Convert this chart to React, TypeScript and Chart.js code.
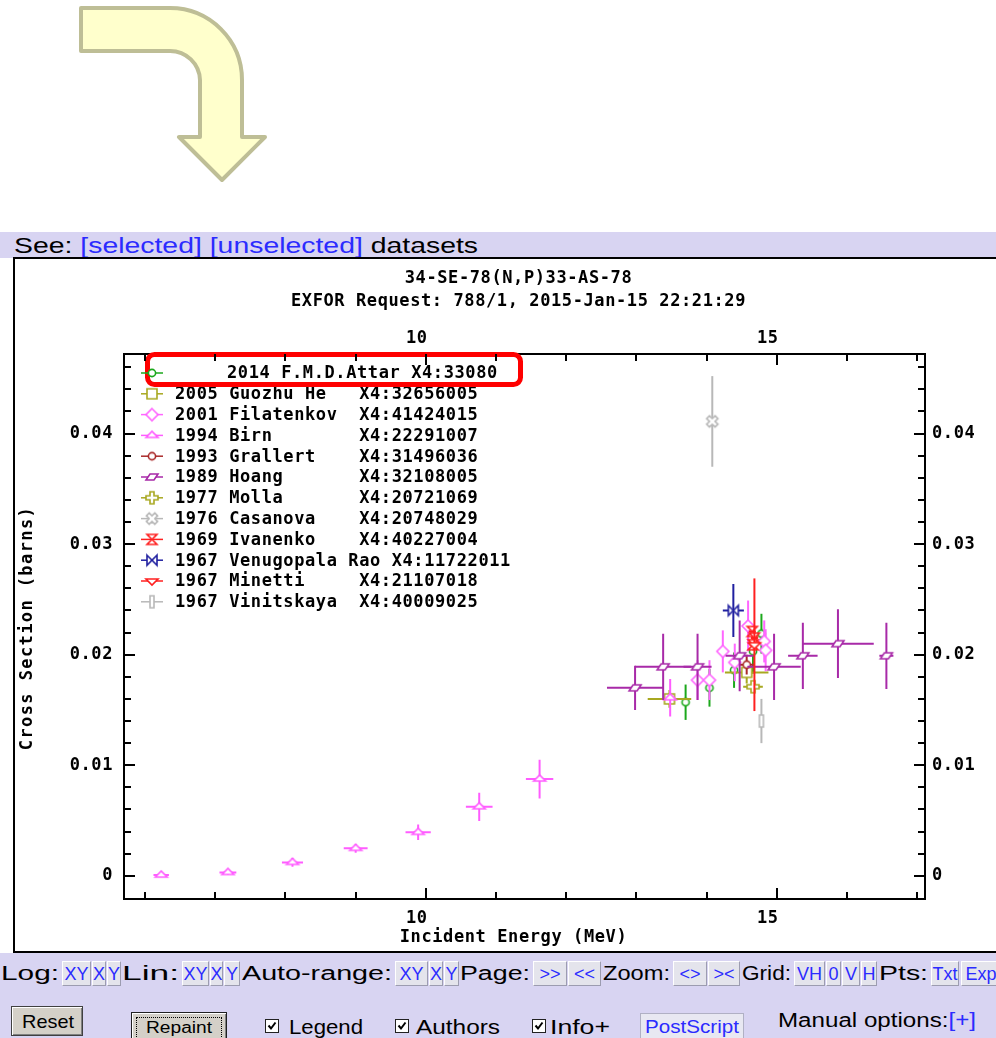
import React, { useEffect, useRef } from 'react';
import { Chart, registerables } from 'chart.js';

Chart.register(...registerables);

// ---------------- axis data ----------------
const X_MIN = 5.7;
const X_MAX = 17.11;
const Y_MIN = -0.0021;
const Y_MAX = 0.0472;
const X_TICKS = [6, 7, 8, 9, 10, 11, 12, 13, 14, 15, 16, 17];
const X_LABELED = [10, 15];
const Y_TICKS = [0, 0.002, 0.004, 0.006, 0.008, 0.01, 0.012, 0.014, 0.016, 0.018, 0.02, 0.022, 0.024, 0.026, 0.028, 0.03, 0.032, 0.034, 0.036, 0.038, 0.04, 0.042, 0.044, 0.046];
const Y_LABELED = [0, 0.01, 0.02, 0.03, 0.04];
const Y_LABELS = ['0', '0.01', '0.02', '0.03', '0.04'];

const TITLE_LINES = ['34-SE-78(N,P)33-AS-78', 'EXFOR Request: 788/1, 2015-Jan-15 22:21:29'];
const X_TITLE = 'Incident Energy (MeV)';
const Y_TITLE = 'Cross Section (barns)';

// ---------------- legend data ----------------
const YEARS = ['2014', '2005', '2001', '1994', '1993', '1989', '1977', '1976', '1969', '1967', '1967', '1967'];
const AUTHORS = ['F.M.D.Attar', 'Guozhu He', 'Filatenkov', 'Birn', 'Grallert', 'Hoang', 'Molla', 'Casanova', 'Ivanenko', 'Venugopala Rao', 'Minetti', 'Vinitskaya'];
const X4_IDS = ['33080', '32656005', '41424015', '22291007', '31496036', '32108005', '20721069', '20748029', '40227004', '11722011', '21107018', '40009025'];
const COLORS = ['#1CA81C', '#A8A820', '#FF66FF', '#FF5CFF', '#AA2A2A', '#A82AA8', '#A8A820', '#B8B8B8', '#FF2020', '#2020A0', '#FF2020', '#B8B8B8'];
const MARKERS = ['circle', 'square', 'diamond', 'triangle', 'circle', 'parallelogram', 'plus', 'cross', 'hourglass', 'bowtie', 'triangleDown', 'bar'];

// ---------------- series data (E, dE in MeV; sigma, dsigma in barns) ----------------
const ATTAR_E = [13.70, 14.04, 14.39, 14.66, 14.78];
const ATTAR_DE = [0, 0, 0, 0, 0];
const ATTAR_V = [0.0157, 0.0170, 0.0186, 0.0203, 0.0219];
const ATTAR_DV = [0.0016, 0.0017, 0.0016, 0.0020, 0.0018];

const HE_E = [13.47, 14.57];
const HE_DE = [0.31, 0.31];
const HE_V = [0.0160, 0.0184];
const HE_DV = [0.0008, 0.0010];

const FILATENKOV_E = [13.87, 14.04, 14.23, 14.40, 14.59, 14.82, 14.84];
const FILATENKOV_DE = [0, 0, 0, 0, 0, 0, 0];
const FILATENKOV_V = [0.0177, 0.0177, 0.0203, 0.0193, 0.0226, 0.0212, 0.0204];
const FILATENKOV_DV = [0.0018, 0.0018, 0.0019, 0.0017, 0.0023, 0.0019, 0.0019];

const BIRN_E = [6.23, 7.18, 8.10, 9.00, 9.89, 10.76, 11.62, 13.48];
const BIRN_DE = [0.11, 0.12, 0.15, 0.17, 0.18, 0.19, 0.195, 0.02];
const BIRN_V = [0.00006, 0.0003, 0.00121, 0.00248, 0.00393, 0.00624, 0.00875, 0.0161];
const BIRN_DV = [0.0001, 0.0002, 0.0004, 0.0004, 0.0007, 0.00128, 0.00175, 0.0017];

const GRALLERT_E = [14.57];
const GRALLERT_DE = [0.1];
const GRALLERT_V = [0.0191];
const GRALLERT_DV = [0.0009];

const HOANG_E = [12.98, 13.38, 13.87, 14.47, 14.96, 15.37, 15.87, 16.56];
const HOANG_DE = [0.40, 0.40, 0.20, 0.20, 0.38, 0.21, 0.51, 0.10];
const HOANG_V = [0.0170, 0.0189, 0.0189, 0.0199, 0.0189, 0.0199, 0.0210, 0.0199];
const HOANG_DV = [0.0020, 0.0030, 0.0030, 0.0032, 0.0030, 0.0030, 0.0031, 0.0030];

const MOLLA_E = [14.66];
const MOLLA_DE = [0.14];
const MOLLA_V = [0.0171];
const MOLLA_DV = [0.0005];

const CASANOVA_E = [14.08];
const CASANOVA_DE = [0];
const CASANOVA_V = [0.0411];
const CASANOVA_DV = [0.0041];

const IVANENKO_E = [14.65, 14.68, 14.66];
const IVANENKO_DE = [0.05, 0.05, 0.05];
const IVANENKO_V = [0.0221, 0.0215, 0.0209];
const IVANENKO_DV = [0.0005, 0.0005, 0.0005];

const RAO_E = [14.38];
const RAO_DE = [0.15];
const RAO_V = [0.0240];
const RAO_DV = [0.0024];

const MINETTI_E = [14.68];
const MINETTI_DE = [0];
const MINETTI_V = [0.0209];
const MINETTI_DV = [0.0060];

const VINITSKAYA_E = [14.78];
const VINITSKAYA_DE = [0];
const VINITSKAYA_V = [0.0140];
const VINITSKAYA_DV = [0.0020];

const SERIES = [
  { e: ATTAR_E, de: ATTAR_DE, v: ATTAR_V, dv: ATTAR_DV },
  { e: HE_E, de: HE_DE, v: HE_V, dv: HE_DV },
  { e: FILATENKOV_E, de: FILATENKOV_DE, v: FILATENKOV_V, dv: FILATENKOV_DV },
  { e: BIRN_E, de: BIRN_DE, v: BIRN_V, dv: BIRN_DV },
  { e: GRALLERT_E, de: GRALLERT_DE, v: GRALLERT_V, dv: GRALLERT_DV },
  { e: HOANG_E, de: HOANG_DE, v: HOANG_V, dv: HOANG_DV },
  { e: MOLLA_E, de: MOLLA_DE, v: MOLLA_V, dv: MOLLA_DV },
  { e: CASANOVA_E, de: CASANOVA_DE, v: CASANOVA_V, dv: CASANOVA_DV },
  { e: IVANENKO_E, de: IVANENKO_DE, v: IVANENKO_V, dv: IVANENKO_DV },
  { e: RAO_E, de: RAO_DE, v: RAO_V, dv: RAO_DV },
  { e: MINETTI_E, de: MINETTI_DE, v: MINETTI_V, dv: MINETTI_DV },
  { e: VINITSKAYA_E, de: VINITSKAYA_DE, v: VINITSKAYA_V, dv: VINITSKAYA_DV },
];

const MONO = 'bold 17px "DejaVu Sans Mono", monospace';
const UI_FONT = '"Liberation Sans", Arial, sans-serif';
const LINK = '#2B2BFF';
const LAVENDER = '#D8D4F2';

function legendLabel(i: number) {
  return `${YEARS[i]} ${AUTHORS[i].padEnd(11)} X4:${X4_IDS[i]}`;
}

function makeMarker(kind: string, color: string) {
  const c = document.createElement('canvas');
  c.width = 24;
  c.height = 24;
  const g = c.getContext('2d')!;
  g.translate(12, 12);
  g.strokeStyle = color;
  g.fillStyle = '#fff';
  g.lineWidth = 1.6;
  g.lineJoin = 'miter';
  g.beginPath();
  const poly = (pts: number[][]) => {
    pts.forEach((p, k) => (k === 0 ? g.moveTo(p[0], p[1]) : g.lineTo(p[0], p[1])));
    g.closePath();
  };
  switch (kind) {
    case 'circle':
      g.arc(0, 0, 3.6, 0, Math.PI * 2);
      break;
    case 'square':
      g.rect(-5, -5, 10, 10);
      break;
    case 'diamond':
      poly([[0, -6], [6, 0], [0, 6], [-6, 0]]);
      break;
    case 'triangle':
      poly([[-6, 2], [0, -4], [6, 2]]);
      break;
    case 'triangleDown':
      poly([[-6, -2], [6, -2], [0, 4]]);
      break;
    case 'parallelogram':
      poly([[-6, 3], [-2, -3], [6, -3], [2, 3]]);
      break;
    case 'plus':
      poly([[-2, -6], [2, -6], [2, -2], [6, -2], [6, 2], [2, 2], [2, 6], [-2, 6], [-2, 2], [-6, 2], [-6, -2], [-2, -2]]);
      break;
    case 'cross': {
      const pts = [[-2, -6], [2, -6], [2, -2], [6, -2], [6, 2], [2, 2], [2, 6], [-2, 6], [-2, 2], [-6, 2], [-6, -2], [-2, -2]];
      const r = Math.PI / 4;
      poly(pts.map(([x, y]) => [x * Math.cos(r) - y * Math.sin(r), x * Math.sin(r) + y * Math.cos(r)]));
      break;
    }
    case 'hourglass':
      g.moveTo(-5, -5);
      g.lineTo(5, -5);
      g.lineTo(-5, 5);
      g.lineTo(5, 5);
      g.closePath();
      break;
    case 'bowtie':
      g.moveTo(-5, -5);
      g.lineTo(5, 5);
      g.lineTo(5, -5);
      g.lineTo(-5, 5);
      g.closePath();
      break;
    case 'bar':
      g.rect(-2, -6, 4, 12);
      break;
  }
  g.fill();
  g.stroke();
  return c;
}

function makePlugin(markers: HTMLCanvasElement[]) {
  return {
    id: 'exfor',
    beforeDraw(chart: any) {
      chart.ctx.letterSpacing = '0.6px';
    },
    beforeDatasetDraw(chart: any, args: any) {
      const ds = chart.data.datasets[args.index];
      const { ctx, chartArea: a } = chart;
      const xs = chart.scales.x;
      const ys = chart.scales.y;
      ctx.save();
      ctx.beginPath();
      ctx.rect(a.left, a.top, a.right - a.left, a.bottom - a.top);
      ctx.clip();
      ctx.strokeStyle = ds.borderColor;
      ctx.lineWidth = 2;
      ds.data.forEach((p: any) => {
        const px = xs.getPixelForValue(p.x);
        const py = ys.getPixelForValue(p.y);
        ctx.beginPath();
        if (p.dy) {
          ctx.moveTo(px, ys.getPixelForValue(p.y - p.dy));
          ctx.lineTo(px, ys.getPixelForValue(p.y + p.dy));
        }
        if (p.dx) {
          ctx.moveTo(xs.getPixelForValue(p.x - p.dx), py);
          ctx.lineTo(xs.getPixelForValue(p.x + p.dx), py);
        }
        ctx.stroke();
      });
      ctx.restore();
    },
    afterDraw(chart: any) {
      const { ctx, chartArea: a } = chart;
      const xs = chart.scales.x;
      const ys = chart.scales.y;
      ctx.save();
      ctx.letterSpacing = '0.6px';
      const line = (x1: number, y1: number, x2: number, y2: number) => {
        ctx.beginPath();
        ctx.moveTo(x1, y1);
        ctx.lineTo(x2, y2);
        ctx.stroke();
      };

      // legend rows (all but the first)
      const rowY = (i: number) => a.top + 19 + i * 20.8;
      const drawRow = (i: number, textX: number) => {
        const y = rowY(i);
        ctx.strokeStyle = COLORS[i];
        ctx.lineWidth = 1.5;
        line(a.left + 17, y, a.left + 39, y);
        ctx.drawImage(markers[i], a.left + 28 - 12, y - 12);
        ctx.fillStyle = '#000';
        ctx.font = MONO;
        ctx.textAlign = 'left';
        ctx.textBaseline = 'middle';
        ctx.fillText(legendLabel(i), textX, y + 1);
      };
      for (let i = 1; i < SERIES.length; i++) drawRow(i, a.left + 51);

      // highlight box
      ctx.lineWidth = 5;
      ctx.strokeStyle = '#FF0000';
      ctx.fillStyle = '#FFFFFF';
      ctx.beginPath();
      ctx.roundRect(a.left + 23.5, a.top + 0.5, 373, 30, 7);
      ctx.fill();
      ctx.stroke();
      drawRow(0, a.left + 103);

      // inward tick marks
      ctx.strokeStyle = '#000';
      ctx.lineWidth = 2;
      X_TICKS.forEach((v) => {
        const px = Math.round(xs.getPixelForValue(v));
        const L = X_LABELED.includes(v) ? 11 : 7;
        line(px, a.bottom, px, a.bottom - L);
        line(px, a.top, px, a.top + L);
      });
      Y_TICKS.forEach((v) => {
        const py = Math.round(ys.getPixelForValue(v));
        const L = Y_LABELED.some((t) => Math.abs(t - v) < 1e-9) ? 11 : 7;
        line(a.left, py, a.left + L, py);
        line(a.right, py, a.right - L, py);
      });

      // titles
      ctx.fillStyle = '#000';
      ctx.font = MONO;
      ctx.textAlign = 'center';
      ctx.textBaseline = 'middle';
      const cx = (a.left + a.right) / 2;
      ctx.fillText(TITLE_LINES[0], cx - 6, a.top - 75);
      ctx.fillText(TITLE_LINES[1], cx - 6, a.top - 52);
      ctx.fillText(X_TITLE, cx - 11, a.bottom + 39);
      ctx.save();
      ctx.translate(28, a.top + 274);
      ctx.rotate(-Math.PI / 2);
      ctx.letterSpacing = '1.4px';
      ctx.fillText(Y_TITLE, 0, 0);
      ctx.restore();
      ctx.restore();
    },
  };
}

const tickFont = { family: '"DejaVu Sans Mono", monospace', size: 17, weight: 'bold' as const };
const xLabel = (v: any) => (X_LABELED.includes(Number(v)) ? String(v) : '');
const yLabel = (v: any) => {
  const k = Y_LABELED.findIndex((t) => Math.abs(t - Number(v)) < 1e-9);
  return k >= 0 ? Y_LABELS[k] : '';
};

function xScale(position: string, size: number, padding: number) {
  return {
    type: 'linear',
    position,
    min: X_MIN,
    max: X_MAX,
    afterBuildTicks: (s: any) => {
      s.ticks = X_TICKS.map((v) => ({ value: v }));
    },
    afterFit: (s: any) => {
      s.height = size;
    },
    grid: { display: false, drawTicks: false },
    border: { display: true, color: '#000', width: 2 },
    ticks: { callback: xLabel, font: tickFont, color: '#000', padding, labelOffset: -9, autoSkip: false, maxRotation: 0, minRotation: 0 },
  };
}

function yScale(position: string, size: number, padding: number) {
  return {
    type: 'linear',
    position,
    min: Y_MIN,
    max: Y_MAX,
    afterBuildTicks: (s: any) => {
      s.ticks = Y_TICKS.map((v) => ({ value: v }));
    },
    afterFit: (s: any) => {
      s.width = size;
    },
    grid: { display: false, drawTicks: false },
    border: { display: true, color: '#000', width: 2 },
    ticks: { callback: yLabel, font: tickFont, color: '#000', padding, autoSkip: false },
  };
}

function ExforChart() {
  const ref = useRef<HTMLCanvasElement>(null);
  useEffect(() => {
    const markers = MARKERS.map((m, i) => makeMarker(m, COLORS[i]));
    const datasets = SERIES.map((s, i) => ({
      label: AUTHORS[i],
      data: s.e.map((e, j) => ({ x: e, y: s.v[j], dx: s.de[j], dy: s.dv[j] })),
      borderColor: COLORS[i],
      backgroundColor: '#fff',
      pointStyle: markers[i],
      pointRadius: 6,
      pointHoverRadius: 6,
      showLine: false,
      order: SERIES.length - i,
    }));
    const chart = new Chart(ref.current!, {
      type: 'scatter',
      data: { datasets } as any,
      options: {
        responsive: false,
        animation: false,
        devicePixelRatio: 1,
        events: [],
        layout: { padding: 0 },
        plugins: { legend: { display: false }, tooltip: { enabled: false }, title: { display: false } },
        scales: {
          x: xScale('bottom', 54, 9),
          x2: xScale('top', 96, 5),
          y: yScale('left', 124, 11),
          y2: yScale('right', 71, 7),
        } as any,
      },
      plugins: [makePlugin(markers)],
    });
    return () => chart.destroy();
  }, []);
  return (
    <canvas
      ref={ref}
      width={996}
      height={695}
      style={{ position: 'absolute', left: 0, top: 258, width: 996, height: 695 }}
    />
  );
}

// ---------------- page chrome ----------------
let measureCtx: CanvasRenderingContext2D | null = null;
function measure(text: string, font: string) {
  if (!measureCtx) measureCtx = document.createElement('canvas').getContext('2d');
  measureCtx!.font = font;
  return measureCtx!.measureText(text).width || 1;
}

type Seg = [string, string];
function FitText({ x, yc, w, size, segs }: { x: number; yc: number; w: number; size: number; segs: Seg[] }) {
  const text = segs.map((s) => s[0]).join('');
  const k = w / measure(text, `${size}px ${UI_FONT}`);
  return (
    <div
      style={{
        position: 'absolute',
        left: x,
        top: yc,
        fontFamily: UI_FONT,
        fontSize: size,
        lineHeight: 1,
        whiteSpace: 'pre',
        transform: `translateY(-50%) scaleX(${k})`,
        transformOrigin: '0 50%',
      }}
    >
      {segs.map((s, i) => (
        <span key={i} style={{ color: s[1] }}>
          {s[0]}
        </span>
      ))}
    </div>
  );
}

function Btn({ x, y, w, h, label }: { x: number; y: number; w: number; h: number; label: string }) {
  return (
    <div
      style={{
        position: 'absolute',
        left: x,
        top: y,
        width: w,
        height: h,
        boxSizing: 'border-box',
        background: '#E4E4EC',
        borderTop: '1px solid #FFFFFF',
        borderLeft: '1px solid #FFFFFF',
        borderRight: '1px solid #9C9CB0',
        borderBottom: '1px solid #9C9CB0',
        display: 'flex',
        alignItems: 'center',
        justifyContent: 'center',
        overflow: 'hidden',
      }}
    >
      <span
        style={{
          fontFamily: UI_FONT,
          fontSize: 18,
          color: LINK,
          display: 'inline-block',
          lineHeight: 1,
          whiteSpace: 'pre',
        }}
      >
        {label}
      </span>
    </div>
  );
}

function Check({ x, y }: { x: number; y: number }) {
  return (
    <div
      style={{
        position: 'absolute',
        left: x,
        top: y,
        width: 14,
        height: 14,
        boxSizing: 'border-box',
        border: '1px solid #222',
        background: '#fff',
      }}
    >
      <svg width="12" height="12" style={{ display: 'block' }}>
        <path d="M2.5 5.5 L5 8.5 L9.5 2.5" stroke="#000" strokeWidth="2" fill="none" />
      </svg>
    </div>
  );
}

const ROW1: [string, string, number, number][] = [
  ['t', 'Log:', 1, 58],
  ['b', 'XY', 62, 29],
  ['b', 'X', 92, 14],
  ['b', 'Y', 107, 14],
  ['t', 'Lin:', 122, 57],
  ['b', 'XY', 182, 27],
  ['b', 'X', 210, 13],
  ['b', 'Y', 224, 16],
  ['t', 'Auto-range:', 242, 150],
  ['b', 'XY', 395, 33],
  ['b', 'X', 429, 14],
  ['b', 'Y', 444, 15],
  ['t', 'Page:', 460, 70],
  ['b', '>>', 533, 34],
  ['b', '<<', 568, 33],
  ['t', 'Zoom:', 603, 67],
  ['b', '<>', 673, 34],
  ['b', '><', 708, 32],
  ['t', 'Grid:', 742, 49],
  ['b', 'VH', 794, 31],
  ['b', '0', 826, 15],
  ['b', 'V', 842, 18],
  ['b', 'H', 861, 16],
  ['t', 'Pts:', 879, 49],
  ['b', 'Txt', 931, 28],
  ['b', 'Exp', 961, 40],
];

function Arrow() {
  return (
    <svg width={300} height={200} style={{ position: 'absolute', left: 0, top: 0 }}>
      <path
        d="M81,8 L170,8 A72,72 0 0 1 242,80 L242,137 L265,137 L222,180 L179,137 L200,137 L200,80 A30,30 0 0 0 170,51 L81,51 Z"
        fill="#FFFFCC"
        stroke="#BEBE96"
        strokeWidth={4}
        strokeLinejoin="round"
      />
    </svg>
  );
}

export default function App() {
  return (
    <div
      style={{
        position: 'fixed',
        left: 0,
        top: 0,
        width: 996,
        height: 1038,
        overflow: 'hidden',
        background: '#fff',
      }}
    >
      <Arrow />
      <div style={{ position: 'absolute', left: 0, top: 232, width: 996, height: 26, background: LAVENDER }} />
      <FitText
        x={14}
        yc={246}
        w={464}
        size={22}
        segs={[
          ['See: ', '#000'],
          ['[selected]', LINK],
          [' ', '#000'],
          ['[unselected]', LINK],
          [' datasets', '#000'],
        ]}
      />
      <div
        style={{
          position: 'absolute',
          left: 13,
          top: 257,
          width: 1000,
          height: 696,
          boxSizing: 'border-box',
          border: '2px solid #000',
          background: '#fff',
        }}
      />
      <ExforChart />
      <div style={{ position: 'absolute', left: 0, top: 953, width: 996, height: 85, background: LAVENDER }} />
      {ROW1.map(([kind, label, x, w], i) =>
        kind === 't' ? (
          <FitText key={i} x={x} yc={973} w={w} size={20} segs={[[label, '#000']]} />
        ) : (
          <Btn key={i} x={x} y={961} w={w} h={25} label={label} />
        )
      )}
      {/* row 2 */}
      <div
        style={{
          position: 'absolute',
          left: 11,
          top: 1006,
          width: 72,
          height: 30,
          boxSizing: 'border-box',
          background: '#D4D0C8',
          border: '1px solid #404040',
          boxShadow: 'inset 1px 1px 0 #fff, inset -1px -1px 0 #808080',
        }}
      />
      <FitText x={22} yc={1021} w={52} size={19} segs={[['Reset', '#000']]} />
      <div
        style={{
          position: 'absolute',
          left: 131,
          top: 1012,
          width: 96,
          height: 32,
          boxSizing: 'border-box',
          background: '#D4D0C8',
          border: '1px solid #202020',
          boxShadow: 'inset 1px 1px 0 #fff, inset -1px -1px 0 #808080',
        }}
      >
        <div
          style={{
            position: 'absolute',
            left: 4,
            top: 4,
            right: 4,
            bottom: 4,
            border: '1px dotted #000',
          }}
        />
      </div>
      <FitText x={146} yc={1028} w={66} size={16} segs={[['Repaint', '#000']]} />
      <Check x={265} y={1019} />
      <FitText x={289} yc={1027} w={74} size={20} segs={[['Legend', '#000']]} />
      <Check x={395} y={1019} />
      <FitText x={416} yc={1027} w={84} size={20} segs={[['Authors', '#000']]} />
      <Check x={532} y={1019} />
      <FitText x={550} yc={1027} w={60} size={20} segs={[['Info+', '#000']]} />
      <div
        style={{
          position: 'absolute',
          left: 640,
          top: 1013,
          width: 104,
          height: 30,
          boxSizing: 'border-box',
          background: '#E8E8F2',
          border: '1px solid #B0B0C4',
        }}
      />
      <FitText x={645} yc={1027} w={94} size={18} segs={[['PostScript', LINK]]} />
      <FitText
        x={778}
        yc={1020}
        w={198}
        size={20}
        segs={[
          ['Manual options:', '#000'],
          ['[+]', LINK],
        ]}
      />
    </div>
  );
}
